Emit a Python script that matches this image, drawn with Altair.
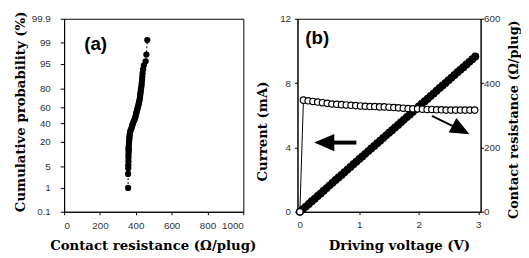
import altair as alt
import pandas as pd
from statistics import NormalDist

# ---------------- Panel (a): cumulative probability of contact resistance ----------------
res_a = [357, 357, 358, 358, 359, 359, 359, 360, 360, 360, 360, 361, 362, 363, 364,
         365, 366, 368, 370, 374, 378, 380, 383, 386, 390, 394, 397, 399, 401, 403,
         406, 408, 410, 412, 415, 417, 419, 421, 423, 424, 425, 427, 428, 430, 432,
         433, 435, 436, 438, 441, 445, 455, 459, 464]
prob_a = [1.0, 3.0, 4.5, 5.5, 7, 8.5, 10, 11.5, 13, 14, 15, 17, 19, 21, 23,
          25, 27, 29, 31, 33, 35, 37, 39, 41, 43, 45, 47, 49, 51, 53,
          55, 57, 59, 61, 63, 65, 67, 69, 71, 73, 75, 77, 79, 81, 83,
          85, 87, 89, 91, 93, 94.5, 95.8, 97.4, 99.2]
prob_ticks = [0.1, 1, 5, 20, 40, 60, 80, 95, 99, 99.9]
res_ticks = [0, 200, 400, 600, 800, 1000]

# ---------------- Panel (b): I-V and contact resistance ----------------
volt_i = [0.00, 0.05, 0.10, 0.15, 0.20, 0.25, 0.30, 0.35, 0.40, 0.45,
          0.50, 0.55, 0.60, 0.65, 0.70, 0.75, 0.80, 0.85, 0.90, 0.95,
          1.00, 1.05, 1.10, 1.15, 1.20, 1.25, 1.30, 1.35, 1.40, 1.45,
          1.50, 1.55, 1.60, 1.65, 1.70, 1.75, 1.80, 1.85, 1.90, 1.95,
          2.00, 2.05, 2.10, 2.15, 2.20, 2.25, 2.30, 2.35, 2.40, 2.45,
          2.50, 2.55, 2.60, 2.65, 2.70, 2.75, 2.80, 2.85, 2.90, 2.95]
current = [0.00, 0.15, 0.32, 0.48, 0.65, 0.81, 0.98, 1.14, 1.31, 1.47,
           1.64, 1.80, 1.97, 2.13, 2.29, 2.46, 2.62, 2.79, 2.95, 3.11,
           3.28, 3.44, 3.60, 3.77, 3.93, 4.09, 4.26, 4.42, 4.58, 4.75,
           4.91, 5.07, 5.24, 5.40, 5.56, 5.73, 5.89, 6.05, 6.22, 6.38,
           6.54, 6.71, 6.87, 7.03, 7.20, 7.36, 7.52, 7.69, 7.85, 8.01,
           8.18, 8.34, 8.50, 8.67, 8.83, 8.99, 9.16, 9.32, 9.48, 9.65]
volt_r = [0.00, 0.06, 0.14, 0.22, 0.30, 0.38, 0.46, 0.54, 0.62, 0.70,
          0.78, 0.86, 0.94, 1.02, 1.10, 1.18, 1.26, 1.34, 1.42, 1.50,
          1.58, 1.66, 1.74, 1.82, 1.90, 1.98, 2.06, 2.14, 2.22, 2.30,
          2.38, 2.46, 2.54, 2.62, 2.70, 2.78, 2.86, 2.94]
resist = [0, 347, 345, 343, 341, 339, 337, 335, 334, 333,
          332, 331, 330, 329, 328, 327, 327, 326, 326, 325,
          324, 323, 322, 321, 320, 320, 319, 318, 318, 317,
          317, 316, 316, 316, 316, 316, 316, 316]
volt_ticks = [0, 1, 2, 3]
cur_ticks = [0, 4, 8, 12]
rres_ticks = [0, 200, 400, 600]

# arrows (in voltage / current units)
arrow_v1 = [0.55, 2.22]
arrow_v2 = [0.95, 2.60]
arrow_i1 = [4.30, 5.96]
arrow_i2 = [4.30, 5.28]
arrow_w = [4, 2]
head_v = [0.41, 2.71]
head_i = [4.30, 5.10]
head_angle = [180, 28]
head_size = [420, 380]

TITLE_FONT = "DejaVu Serif"
LABEL_FONT = "Liberation Sans"

# ---------------- Panel (a) ----------------
df_a = pd.DataFrame({"R": res_a, "P": prob_a})
z_ticks = [NormalDist().inv_cdf(p / 100) for p in prob_ticks]
zlim = 3.0904

xa = alt.X("R:Q", scale=alt.Scale(domain=[0, 1000], nice=False),
           axis=alt.Axis(values=res_ticks, format="d", title="Contact resistance (Ω/plug)",
                         titleX=90, titleY=38.5, titleBaseline="alphabetic", titleAlign="center",
                         tickSize=3, labelPadding=6))
ya = alt.Y("z:Q", scale=alt.Scale(domain=[-zlim, zlim], nice=False, zero=False),
           axis=alt.Axis(values=z_ticks, title="Cumulative probability (%)",
                         labelExpr="format(cumulativeNormal(datum.value) * 100, '.3~')",
                         titleAngle=270, titleX=-40, titleY=94, titleBaseline="alphabetic",
                         titleAlign="center", tickSize=4, labelPadding=10))

base_a = alt.Chart(df_a).transform_calculate(z="quantileNormal(datum.P / 100)")
line_a = base_a.mark_line(color="black", strokeWidth=1, strokeDash=[2, 2]).encode(
    x=xa, y=ya, order="P:Q")
pts_a = base_a.mark_circle(color="black", size=40, opacity=1).encode(x=xa, y=ya)
lab_a = alt.Chart(pd.DataFrame({"t": ["(a)"]})).mark_text(
    font=LABEL_FONT, fontWeight="bold", fontSize=19, align="center", baseline="middle",
    color="black").encode(x=alt.value(32), y=alt.value(26), text="t:N")

panel_a = alt.layer(line_a, pts_a, lab_a).properties(width=182, height=196)

# ---------------- Panel (b) ----------------
df_i = pd.DataFrame({"V": volt_i, "I": current})
df_r = pd.DataFrame({"V": volt_r, "R": resist})
df_arrow = pd.DataFrame({"V": arrow_v1, "V2": arrow_v2, "I": arrow_i1, "I2": arrow_i2, "w": arrow_w})
df_head = pd.DataFrame({"V": head_v, "I": head_i, "ang": head_angle, "s": head_size})

xb = alt.X("V:Q", scale=alt.Scale(domain=[-0.04, 3.04], nice=False, zero=False),
           axis=alt.Axis(values=volt_ticks, title="Driving voltage (V)",
                         titleX=103, titleY=38.5, titleBaseline="alphabetic", titleAlign="center",
                         tickSize=3, labelPadding=5))
yb_l = alt.Y("I:Q", scale=alt.Scale(domain=[0, 12], nice=False),
             axis=alt.Axis(values=cur_ticks, title="Current (mA)", orient="left",
                           titleAngle=270, titleX=-31, titleY=114, titleBaseline="alphabetic",
                           titleAlign="center", tickSize=3, labelPadding=4))
yb_r = alt.Y("R:Q", scale=alt.Scale(domain=[0, 600], nice=False),
             axis=alt.Axis(values=rres_ticks, title="Contact resistance (Ω/plug)", orient="right",
                           titleAngle=270, titleX=37, titleY=102, titleBaseline="alphabetic",
                           titleAlign="center", titleFontSize=13, tickSize=3, labelPadding=0))

cur_pts = alt.Chart(df_i).mark_circle(color="black", size=65, opacity=1).encode(x=xb, y=yb_l)
shafts = alt.Chart(df_arrow).mark_rule(color="black").encode(
    x=xb, x2="V2:Q", y=yb_l, y2="I2:Q", strokeWidth=alt.StrokeWidth("w:Q", scale=None))
heads = alt.Chart(df_head).mark_point(
    shape="M1,0L-1,-0.85L-1,0.85Z", filled=True, color="black", opacity=1).encode(
    x=xb, y=yb_l, angle=alt.Angle("ang:Q", scale=None), size=alt.Size("s:Q", scale=None))
lab_b = alt.Chart(pd.DataFrame({"t": ["(b)"]})).mark_text(
    font=LABEL_FONT, fontWeight="bold", fontSize=19, align="center", baseline="middle",
    color="black").encode(x=alt.value(20), y=alt.value(20), text="t:N")

left_layer = alt.layer(cur_pts, shafts, heads, lab_b)

res_line = alt.Chart(df_r).mark_line(color="black", strokeWidth=1).encode(x=xb, y=yb_r)
res_pts = alt.Chart(df_r).mark_point(shape="circle", size=42, filled=True, fill="white",
                                     stroke="black", strokeWidth=1.2, opacity=1).encode(x=xb, y=yb_r)
right_layer = alt.layer(res_line, res_pts)

panel_b = alt.layer(left_layer, right_layer).resolve_scale(y="independent").properties(
    width=186, height=196)

chart = alt.hconcat(panel_a, panel_b, spacing=55, bounds="flush").properties(
    padding={"left": 5, "top": 0, "right": 0, "bottom": 0}, background="white"
).configure_view(stroke="black", strokeWidth=1).configure_axis(
    grid=False, domainColor="black", tickColor="black", domainWidth=1, tickWidth=1,
    labelFont=LABEL_FONT, labelFontSize=10, labelColor="#333",
    titleFont=TITLE_FONT, titleFontSize=13.5, titleFontWeight="bold", titleColor="black"
)

chart.save("out.html", embed_options={"renderer": "svg", "actions": False})
